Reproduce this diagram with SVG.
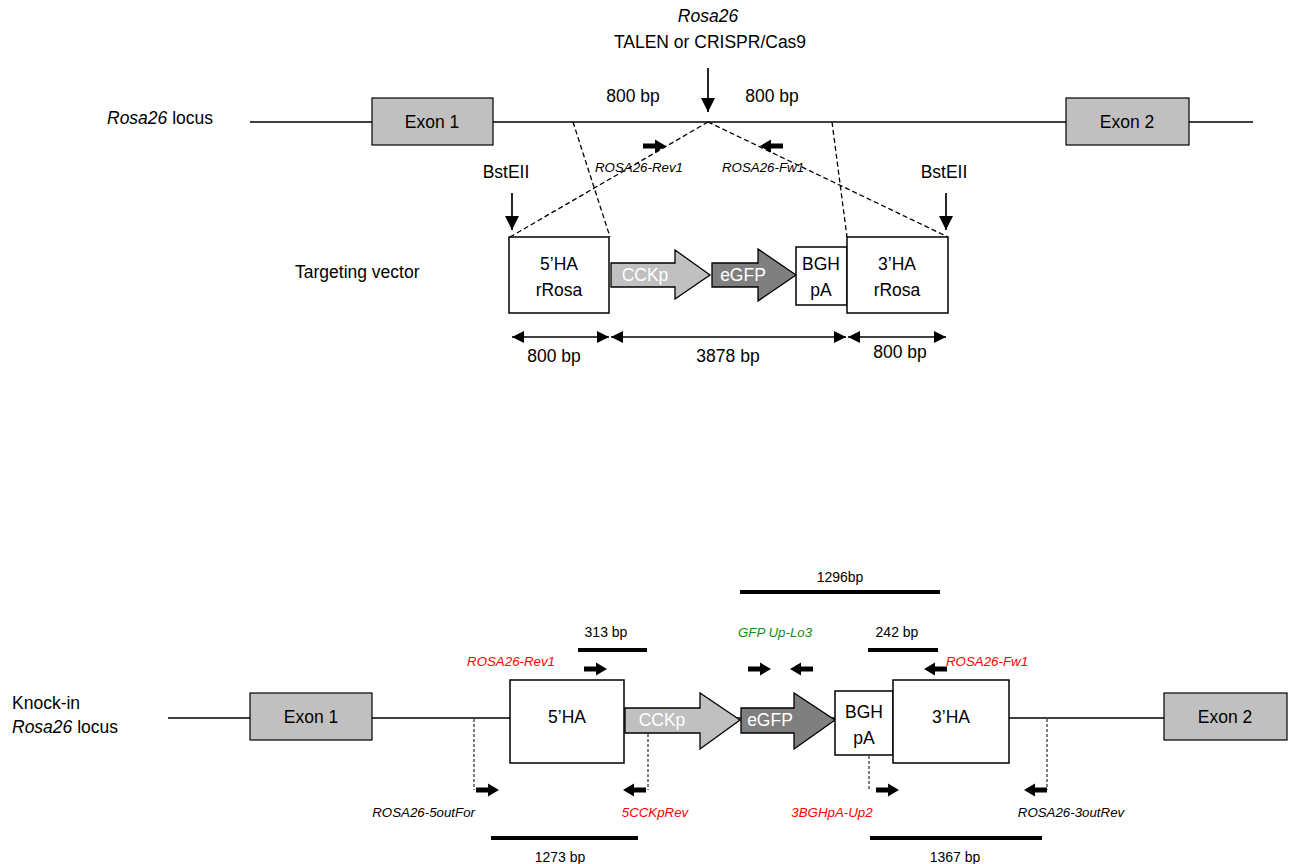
<svg xmlns="http://www.w3.org/2000/svg" width="1291" height="864" viewBox="0 0 1291 864">
<style>
text{font-family:"Liberation Sans",Arial,sans-serif;fill:#000}
.t{font-size:17.5px}
.s{font-size:13.3px;font-style:italic}
.a{font-size:14px}
.red{fill:#ff0000}
.grn{fill:#109010}
.it{font-style:italic}
.box{fill:#fff;stroke:#000;stroke-width:1.5}
.exon{fill:#c0c0c0;stroke:#000;stroke-width:1.2}
.ln{stroke:#000;stroke-width:1.7;fill:none}
.bar{stroke:#000;stroke-width:4}
.dash{stroke:#000;stroke-width:1.3;stroke-dasharray:5,3;fill:none}
.dot{stroke:#000;stroke-width:1;stroke-dasharray:3,2;fill:none}
.w{fill:#fff}
</style>
<defs>
<path id="pr" d="M0,-2.6 H12 V-6.5 L23,0 L12,6.5 V2.6 H0 Z" fill="#000"/>
<marker id="ah" viewBox="0 0 12 12" refX="12" refY="6" markerWidth="12" markerHeight="12" markerUnits="userSpaceOnUse" orient="auto-start-reverse"><path d="M0,0 L12,6 L0,12 Z" fill="#000"/></marker>
<marker id="dh" viewBox="0 0 14 14" refX="14" refY="7" markerWidth="14" markerHeight="14" markerUnits="userSpaceOnUse" orient="auto"><path d="M0,0 L14,7 L0,14 Z" fill="#000"/></marker>
</defs>

<!-- ===== TOP: Rosa26 locus ===== -->
<g id="locus-top">
<line class="ln" x1="250" y1="122" x2="1253" y2="122"/>
<text x="107" y="124" class="t"><tspan class="it">Rosa26</tspan> locus</text>
</g>
<g id="exon1-top"><rect class="exon" x="372" y="98" width="121" height="47"/><text x="432" y="128" class="t" text-anchor="middle">Exon 1</text></g>
<g id="exon2-top"><rect class="exon" x="1066" y="98" width="123" height="47"/><text x="1127" y="128" class="t" text-anchor="middle">Exon 2</text></g>
<g id="nuclease">
<text x="708" y="22" class="t it" text-anchor="middle">Rosa26</text>
<text x="710" y="48" class="t" text-anchor="middle">TALEN or CRISPR/Cas9</text>
<text x="633" y="102" class="t" text-anchor="middle">800 bp</text>
<text x="772" y="102" class="t" text-anchor="middle">800 bp</text>
</g>
<g id="bsteii-left"><text x="506" y="178" class="t" text-anchor="middle">BstEII</text></g>
<g id="bsteii-right"><text x="944" y="178" class="t" text-anchor="middle">BstEII</text></g>
<g id="primers-top">
<use href="#pr" x="643" y="146"/>
<use href="#pr" transform="translate(783,146) scale(-1,1)"/>
<text x="595" y="172" class="s">ROSA26-Rev1</text>
<text x="722" y="172" class="s">ROSA26-Fw1</text>
</g>

<!-- Targeting vector -->
<g id="tv-label"><text x="295" y="278" class="t">Targeting vector</text></g>
<g id="ha5-tv"><rect class="box" x="509" y="237" width="100" height="76"/><text x="559" y="270" class="t" text-anchor="middle">5’HA</text><text x="559" y="296" class="t" text-anchor="middle">rRosa</text></g>
<g id="cckp-tv"><path d="M611,263 H675 V250 L710,275 L675,299 V287 H611 Z" fill="#c0c0c0" stroke="#000" stroke-width="1.3"/><text x="645" y="281" class="t w" text-anchor="middle">CCKp</text></g>
<g id="egfp-tv"><path d="M712,263 H758 V249 L796,275 L758,301 V287 H712 Z" fill="#7f7f7f" stroke="#000" stroke-width="1.3"/><text x="743" y="281" class="t w" text-anchor="middle">eGFP</text></g>
<g id="bgh-tv"><rect class="box" x="796" y="247" width="51" height="58"/><text x="821" y="270" class="t" text-anchor="middle">BGH</text><text x="821" y="296" class="t" text-anchor="middle">pA</text></g>
<g id="ha3-tv"><rect class="box" x="847" y="237" width="101" height="76"/><text x="897" y="270" class="t" text-anchor="middle">3’HA</text><text x="897" y="296" class="t" text-anchor="middle">rRosa</text></g>
<g id="dims-tv">
<text x="554" y="362" class="t" text-anchor="middle">800 bp</text>
<text x="728" y="362" class="t" text-anchor="middle">3878 bp</text>
<text x="900" y="358" class="t" text-anchor="middle">800 bp</text>
</g>

<!-- ===== BOTTOM: Knock-in locus ===== -->
<g id="locus-ki">
<line class="ln" x1="168" y1="718" x2="1287" y2="718"/>
<text x="12" y="709" class="t">Knock-in</text>
<text x="12" y="733" class="t"><tspan class="it">Rosa26</tspan> locus</text>
</g>
<g id="exon1-ki"><rect class="exon" x="250" y="693" width="122" height="47"/><text x="311" y="723" class="t" text-anchor="middle">Exon 1</text></g>
<g id="exon2-ki"><rect class="exon" x="1164" y="693" width="123" height="47"/><text x="1225" y="723" class="t" text-anchor="middle">Exon 2</text></g>
<g id="ha5-ki"><rect class="box" x="510" y="680" width="114" height="83"/><text x="567" y="723" class="t" text-anchor="middle">5’HA</text></g>
<g id="cckp-ki"><path d="M625,708 H700 V693 L740,720 L700,749 V733 H625 Z" fill="#c0c0c0" stroke="#000" stroke-width="1.3"/><text x="662" y="726" class="t w" text-anchor="middle">CCKp</text></g>
<g id="egfp-ki"><path d="M741,708 H794 V693 L835,720 L794,749 V733 H741 Z" fill="#7f7f7f" stroke="#000" stroke-width="1.3"/><text x="770" y="726" class="t w" text-anchor="middle">eGFP</text></g>
<g id="bgh-ki"><rect class="box" x="835" y="691" width="58" height="64"/><text x="864" y="718" class="t" text-anchor="middle">BGH</text><text x="864" y="744" class="t" text-anchor="middle">pA</text></g>
<g id="ha3-ki"><rect class="box" x="893" y="680" width="116" height="83"/><text x="951" y="723" class="t" text-anchor="middle">3’HA</text></g>

<g id="amplicons">
<line class="bar" x1="740" y1="592" x2="940" y2="592"/><text x="840" y="582" class="a" text-anchor="middle">1296bp</text>
<line class="bar" x1="578" y1="650" x2="647" y2="650"/><text x="606" y="637" class="a" text-anchor="middle">313 bp</text>
<line class="bar" x1="868" y1="650" x2="938" y2="650"/><text x="897" y="637" class="a" text-anchor="middle">242 bp</text>
<line class="bar" x1="491" y1="838" x2="638" y2="838"/><text x="560" y="862" class="a" text-anchor="middle">1273 bp</text>
<line class="bar" x1="870" y1="838" x2="1042" y2="838"/><text x="955" y="862" class="a" text-anchor="middle">1367 bp</text>
</g>

<g id="primers-ki">
<text x="775" y="637" class="s grn" text-anchor="middle">GFP Up-Lo3</text>
<text x="555" y="666" class="s red" text-anchor="end">ROSA26-Rev1</text>
<text x="946" y="666" class="s red">ROSA26-Fw1</text>
<use href="#pr" x="584" y="669"/>
<use href="#pr" x="748" y="669"/>
<use href="#pr" transform="translate(813,669) scale(-1,1)"/>
<use href="#pr" transform="translate(947,669) scale(-1,1)"/>
<use href="#pr" x="476" y="790"/>
<use href="#pr" transform="translate(646,790) scale(-1,1)"/>
<use href="#pr" x="876" y="790"/>
<use href="#pr" transform="translate(1047,790) scale(-1,1)"/>
<text x="475" y="817" class="s" text-anchor="end">ROSA26-5outFor</text>
<text x="655" y="817" class="s red" text-anchor="middle">5CCKpRev</text>
<text x="832" y="817" class="s red" text-anchor="middle">3BGHpA-Up2</text>
<text x="1071" y="817" class="s" text-anchor="middle">ROSA26-3outRev</text>
</g>

<!-- connectors -->
<g id="connectors">
<line class="ln" x1="708" y1="68" x2="708" y2="112" marker-end="url(#dh)"/>
<line class="ln" x1="512" y1="193" x2="512" y2="230" marker-end="url(#dh)"/>
<line class="ln" x1="946" y1="193" x2="946" y2="230" marker-end="url(#dh)"/>
<path class="dash" d="M708,122 L510,237 M708,122 L948,237 M573,122 L610,237 M832,122 L847,237"/>
<line class="ln" x1="512" y1="337" x2="609" y2="337" marker-start="url(#ah)" marker-end="url(#ah)"/>
<line class="ln" x1="611" y1="337" x2="846" y2="337" marker-start="url(#ah)" marker-end="url(#ah)"/>
<line class="ln" x1="848" y1="337" x2="946" y2="337" marker-start="url(#ah)" marker-end="url(#ah)"/>
<path class="dot" d="M474,719 V790 M648,734 V790 M869,756 V790 M1047,719 V790"/>
</g>
</svg>
